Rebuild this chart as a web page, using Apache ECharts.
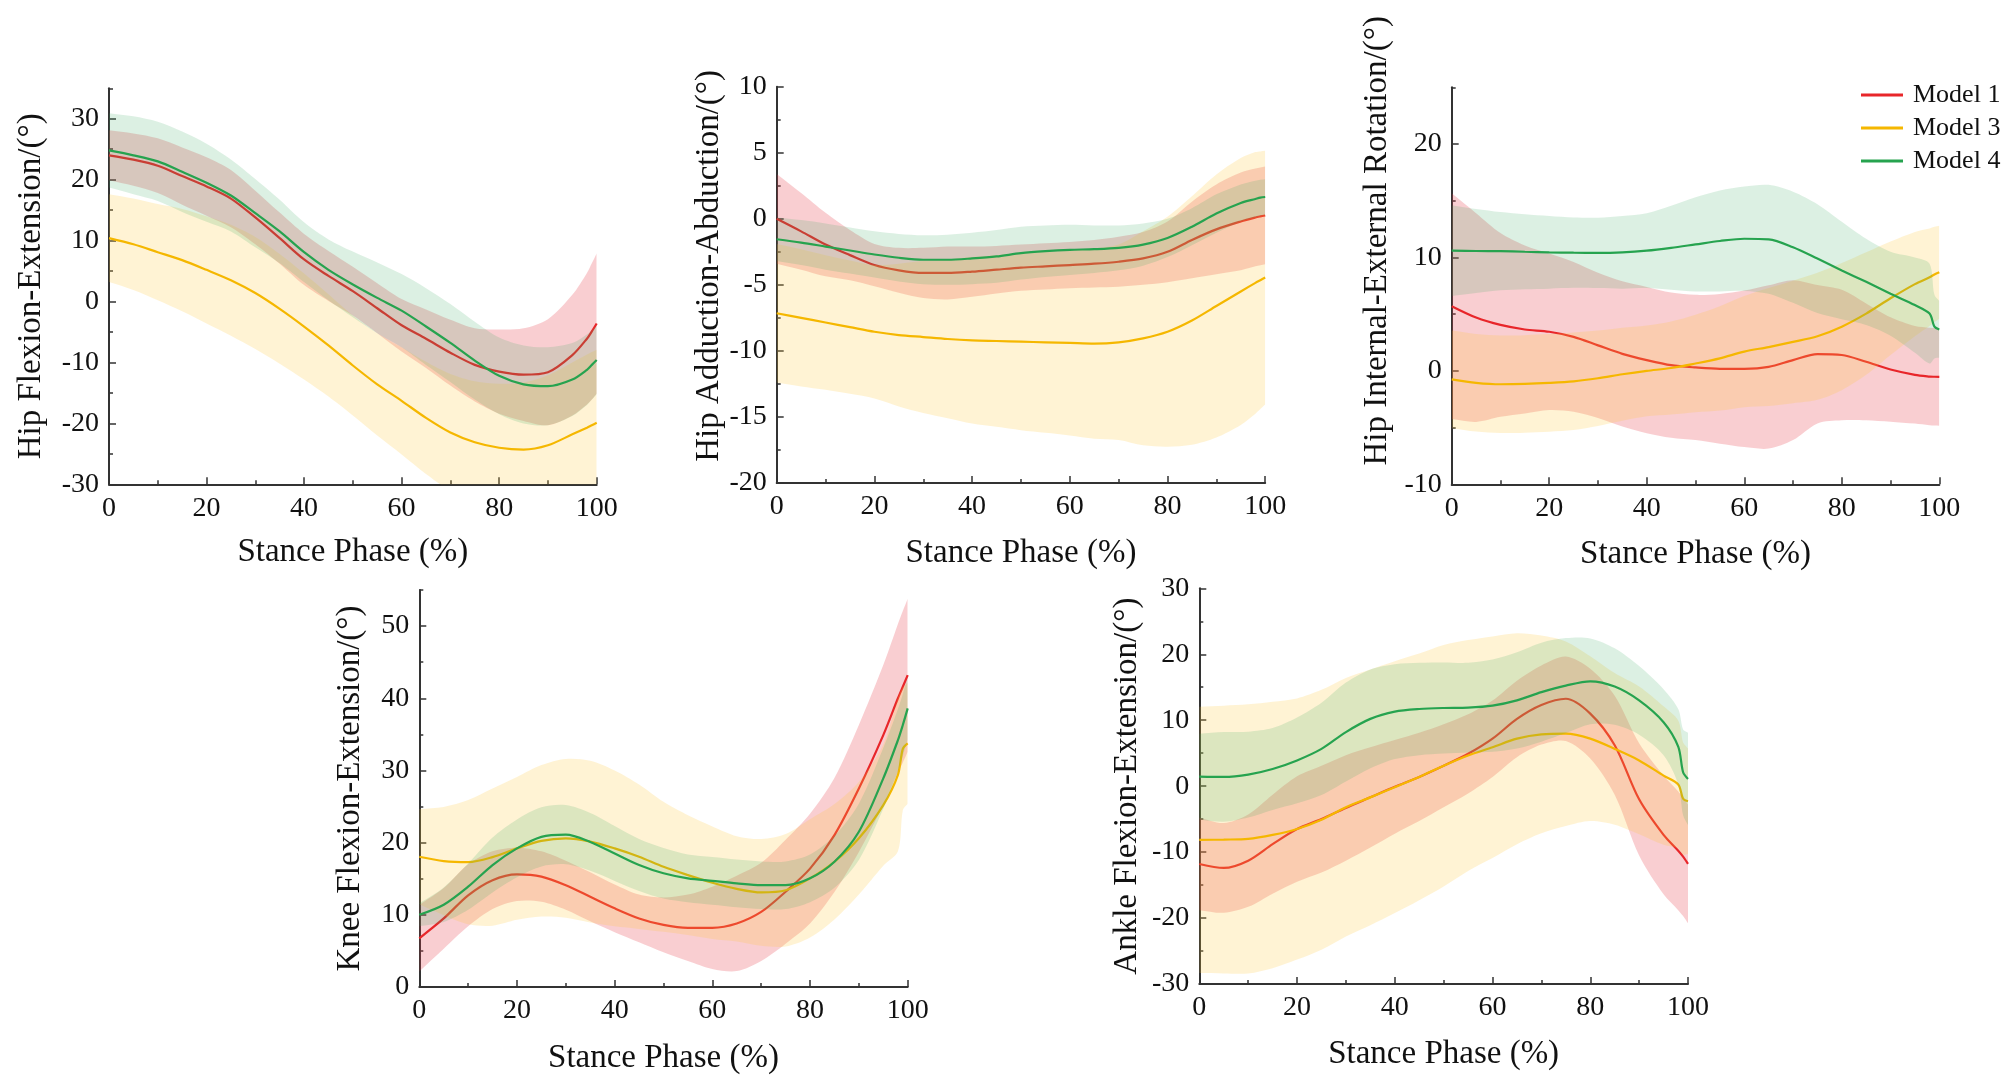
<!DOCTYPE html>
<html>
<head>
<meta charset="utf-8">
<title>Joint angles in stance phase</title>
<script src="https://cdn.jsdelivr.net/npm/echarts@6/dist/echarts.min.js"></script>
<style>
html,body{margin:0;padding:0;background:#fff;}
#main{width:2008px;height:1085px;}
</style>
</head>
<body>
<div id="main"></div>
<script>
// stance phase samples (%)
var X = [0,5,10,15,20,25,30,35,40,45,50,55,60,65,70,75,80,85,90,95,98,99,100];
var MODELS = ['Model 1','Model 3','Model 4'];

// Hip flexion-extension : mean / sd
var hipFE_m1 = [24.0,23.3,22.3,20.6,18.9,16.9,13.8,10.4,6.9,4.2,1.7,-1.1,-3.9,-6.1,-8.4,-10.4,-11.5,-12.0,-11.6,-8.8,-6.1,-4.9,-3.6];
var hipFE_m1_sd = [4.1,4.3,4.5,4.7,4.8,4.7,4.4,4.2,4.2,4.1,4.0,4.1,4.3,4.8,5.4,6.0,6.9,7.6,8.7,9.9,10.8,11.2,11.5];
var hipFE_m3 = [10.4,9.4,8.1,6.8,5.2,3.5,1.4,-1.2,-4.1,-7.2,-10.5,-13.6,-16.3,-19.1,-21.5,-23.1,-24.0,-24.3,-23.6,-21.8,-20.7,-20.3,-19.9];
var hipFE_m3_sd = [7.2,7.5,7.9,8.4,8.8,9.1,9.2,9.0,8.7,8.4,8.2,8.4,8.8,9.2,9.6,10.0,10.5,11.0,11.5,11.8,12.0,12.0,12.0];
var hipFE_m4 = [24.8,24.0,23.0,21.3,19.5,17.4,14.5,11.5,8.1,5.2,2.8,0.6,-1.5,-4.1,-6.8,-9.7,-12.2,-13.6,-13.9,-12.8,-11.2,-10.4,-9.6];
var hipFE_m4_sd = [6.1,6.4,6.5,6.6,6.4,5.9,5.6,5.2,4.9,5.0,5.4,5.8,6.0,6.3,6.4,6.4,6.3,6.4,6.4,6.0,5.8,5.7,5.6];

// Hip adduction-abduction
var hipAA_m1 = [0,-0.95,-1.95,-2.75,-3.5,-3.9,-4.1,-4.1,-4.0,-3.85,-3.7,-3.6,-3.5,-3.4,-3.25,-3.0,-2.5,-1.6,-0.8,-0.2,0.1,0.18,0.25];
var hipAA_m1_sd = [3.4,2.9,2.4,1.9,1.6,1.7,1.9,2.0,1.9,1.8,1.75,1.75,1.75,1.8,1.9,2.0,2.3,2.9,3.4,3.7,3.7,3.7,3.7];
var hipAA_m3 = [-7.15,-7.5,-7.85,-8.2,-8.55,-8.8,-8.95,-9.1,-9.2,-9.25,-9.3,-9.35,-9.4,-9.45,-9.35,-9.05,-8.55,-7.7,-6.6,-5.5,-4.85,-4.65,-4.45];
var hipAA_m3_sd = [5.25,5.2,5.1,5.05,5.05,5.4,5.75,6.0,6.3,6.5,6.7,6.85,7.0,7.2,7.4,8.1,8.7,9.4,9.95,10.1,9.9,9.75,9.6];
var hipAA_m4 = [-1.55,-1.8,-2.1,-2.4,-2.7,-2.95,-3.1,-3.1,-3.0,-2.85,-2.6,-2.45,-2.35,-2.3,-2.2,-1.95,-1.45,-0.6,0.4,1.2,1.5,1.6,1.65];
var hipAA_m4_sd = [1.65,1.7,1.75,1.75,1.75,1.8,1.85,1.9,1.95,2.0,2.0,1.95,1.9,1.8,1.7,1.6,1.45,1.4,1.45,1.4,1.38,1.36,1.35];

// Hip internal-external rotation
var hipIE_m1 = [5.7,4.7,4.05,3.65,3.45,3.0,2.25,1.5,0.95,0.5,0.3,0.18,0.18,0.35,0.95,1.47,1.4,0.8,0.12,-0.35,-0.5,-0.52,-0.53];
var hipIE_m1_sd = [9.95,9.2,8.1,7.4,6.9,6.6,6.4,6.4,6.45,6.4,6.4,6.6,6.9,7.2,7.05,6.1,5.75,5.15,4.6,4.3,4.3,4.3,4.3];
var hipIE_m3 = [-0.75,-1.05,-1.18,-1.15,-1.06,-0.92,-0.65,-0.3,0,0.25,0.65,1.1,1.7,2.1,2.55,3.05,3.9,5.05,6.4,7.65,8.25,8.5,8.7];
var hipIE_m3_sd = [4.3,4.3,4.3,4.3,4.3,4.3,4.2,4.1,4.0,4.1,4.3,4.6,4.9,5.2,5.4,5.6,5.6,5.4,5.0,4.6,4.3,4.2,4.1];
var hipIE_m4 = [10.6,10.57,10.55,10.5,10.45,10.42,10.4,10.45,10.6,10.85,11.15,11.45,11.65,11.6,10.9,9.9,8.85,7.85,6.8,5.8,5.05,3.9,3.65];
var hipIE_m4_sd = [4.0,3.7,3.45,3.3,3.2,3.1,3.1,3.2,3.3,3.7,4.15,4.45,4.6,4.8,4.9,4.8,4.3,3.8,3.7,4.2,4.4,2.8,2.5];

// Knee flexion-extension
var knee_m1 = [6.75,9.5,12.7,14.8,15.6,15.3,14.1,12.5,10.9,9.5,8.6,8.2,8.2,8.8,10.4,13.2,16.4,21.05,27.5,34.9,40.0,41.6,43.2];
var knee_m1_sd = [4.6,4.2,4.3,4.0,3.7,3.5,3.4,3.4,3.3,3.3,3.8,4.6,5.7,6.6,6.8,7.2,7.6,7.9,8.8,9.7,10.3,10.5,10.6];
var knee_m3 = [18.05,17.45,17.3,18.0,19.2,20.25,20.6,20.15,19.2,18.05,16.65,15.5,14.45,13.6,13.1,13.4,15.05,17.35,20.6,25.2,29.4,33.0,33.75];
var knee_m3_sd = [6.6,7.5,8.6,9.5,9.9,10.5,11.0,11.2,10.8,10.0,9.0,8.3,7.8,7.3,7.4,7.8,8.2,8.0,7.8,8.4,10.6,8.5,8.35];
var knee_m4 = [10.0,11.4,13.9,16.9,19.2,20.8,21.1,20.1,18.5,16.9,15.75,15.05,14.7,14.35,14.1,14.1,15.05,17.35,21.5,28.9,34.2,36.3,38.6];
var knee_m4_sd = [1.6,2.4,3.2,3.8,4.0,4.1,4.1,4.0,3.8,3.6,3.5,3.3,3.3,3.3,3.3,3.3,3.3,3.6,3.9,4.2,4.3,4.3,4.3];

// Ankle flexion-extension
var ankle_m1 = [-11.8,-12.4,-11.3,-8.8,-6.5,-5.0,-3.3,-1.7,-0.1,1.4,3.1,4.9,7.2,10.2,12.3,13.25,11.0,6.2,-2.0,-7.4,-9.8,-10.7,-11.8];
var ankle_m1_sd = [7.0,6.8,7.0,7.5,8.0,8.1,8.0,7.6,7.1,6.7,6.3,6.0,5.8,5.8,6.0,6.4,6.8,7.5,8.5,9.0,9.0,9.0,9.0];
var ankle_m3 = [-8.15,-8.1,-8.0,-7.4,-6.5,-5.1,-3.2,-1.7,-0.15,1.4,3.1,4.65,5.9,7.2,7.85,7.95,7.2,5.65,3.9,1.6,0.25,-1.9,-2.3];
var ankle_m3_sd = [20.2,20.3,20.4,20.2,19.8,19.7,19.6,19.4,19.1,18.7,18.3,17.5,16.8,16.0,15.0,14.0,12.5,11.5,11.2,10.5,9.7,8.5,8.0];
var ankle_m4 = [1.45,1.4,1.75,2.6,3.9,5.65,8.2,10.2,11.3,11.7,11.85,11.9,12.2,13.0,14.25,15.25,15.9,15.1,13.0,9.7,6.0,2.1,1.1];
var ankle_m4_sd = [6.5,6.8,6.5,6.2,6.5,7.0,7.5,7.5,7.2,7.0,6.9,6.8,7.0,7.3,7.5,7.2,6.5,5.8,5.2,5.0,5.7,6.5,7.0];

var FONT = '"Liberation Serif", "Times New Roman", serif';
var lineColors = ['#e8262a', '#f5b700', '#26a34f'];
var bandColors = ['rgba(230,60,70,0.25)', 'rgba(255,200,60,0.22)', 'rgba(60,170,100,0.18)'];
var axisCol = '#333';
var SMOOTH = 0.3;

var panels = [
  {title:'Hip Flexion-Extension/(°)', min:-30, max:35, major:10, minor:5,
   box:[109, 88.3, 487.7, 396], yGap:61, xGap:52, shift:0,
   models:[[hipFE_m1,hipFE_m1_sd],[hipFE_m3,hipFE_m3_sd],[hipFE_m4,hipFE_m4_sd]]},
  {title:'Hip Adduction-Abduction/(°)', min:-20, max:10, major:5, minor:2.5,
   box:[776.7, 86.7, 488.5, 396.3], yGap:49, xGap:54, shift:19,
   models:[[hipAA_m1,hipAA_m1_sd],[hipAA_m3,hipAA_m3_sd],[hipAA_m4,hipAA_m4_sd]]},
  {title:'Hip Internal-External Rotation/(°)', min:-10, max:25, major:10, minor:5,
   box:[1451.7, 87.3, 487.6, 397], yGap:58, xGap:54, shift:45,
   models:[[hipIE_m1,hipIE_m1_sd],[hipIE_m3,hipIE_m3_sd],[hipIE_m4,hipIE_m4_sd]]},
  {title:'Knee Flexion-Extension/(°)', min:0, max:55, major:10, minor:5,
   box:[419.3, 590, 488.4, 397], yGap:52, xGap:55, shift:0,
   models:[[knee_m1,knee_m1_sd],[knee_m3,knee_m3_sd],[knee_m4,knee_m4_sd]]},
  {title:'Ankle Flexion-Extension/(°)', min:-30, max:30, major:10, minor:5,
   box:[1199.3, 588.3, 488.7, 395.7], yGap:55, xGap:54, shift:0,
   models:[[ankle_m1,ankle_m1_sd],[ankle_m3,ankle_m3_sd],[ankle_m4,ankle_m4_sd]]}
];

// bezier segments through pixel points, same rule as the line series smoothing
function curve(pts) {
  var n = pts.length, cps = [];
  for (var i = 0; i < n; i++) {
    var p = pts[i], prev = pts[Math.max(i - 1, 0)], next = pts[Math.min(i + 1, n - 1)];
    var vx = next[0] - prev[0], vy = next[1] - prev[1];
    var d0 = Math.hypot(p[0] - prev[0], p[1] - prev[1]);
    var d1 = Math.hypot(next[0] - p[0], next[1] - p[1]);
    var r = (d0 + d1) ? d1 / (d0 + d1) : 0;
    cps.push([
      [p[0] - vx * SMOOTH * (1 - r), p[1] - vy * SMOOTH * (1 - r)],
      [p[0] + vx * SMOOTH * r, p[1] + vy * SMOOTH * r]
    ]);
  }
  var d = '';
  for (var j = 1; j < n; j++) {
    d += ' C' + cps[j - 1][1].join(',') + ' ' + cps[j][0].join(',') + ' ' + pts[j].join(',');
  }
  return d;
}

function bandRenderer(mean, sd, color) {
  return function (params, api) {
    if (params.dataIndex !== 0) return null;
    var up = X.map(function (x, i) { return api.coord([x, mean[i] + sd[i]]); });
    var lo = X.map(function (x, i) { return api.coord([x, mean[i] - sd[i]]); }).reverse();
    var path = 'M' + up[0].join(',') + curve(up) + ' L' + lo[0].join(',') + curve(lo) + ' Z';
    var cs = params.coordSys;
    return {
      type: 'path',
      shape: {pathData: path},
      style: {fill: color},
      clipPath: {type: 'rect', shape: {x: cs.x, y: cs.y, width: cs.width, height: cs.height}}
    };
  };
}

var chart = echarts.init(document.getElementById('main'));
var grid = [], xAxis = [], yAxis = [], series = [];
var tickLine = {color: axisCol, width: 1.5};

panels.forEach(function (p, g) {
  grid.push({left: p.box[0], top: p.box[1], width: p.box[2], height: p.box[3]});

  xAxis.push({
    type: 'value', gridIndex: g, min: 0, max: 100, interval: 20,
    name: 'Stance Phase (%)', nameLocation: 'middle', nameGap: p.xGap,
    nameTextStyle: {fontFamily: FONT, fontSize: 33, color: '#111'},
    axisLine: {onZero: false, lineStyle: {color: axisCol, width: 2}},
    axisTick: {inside: true, length: 7, lineStyle: tickLine},
    minorTick: {show: true, splitNumber: 2, length: 4, lineStyle: tickLine},
    axisLabel: {fontFamily: FONT, fontSize: 28, color: '#111', margin: 10},
    splitLine: {show: false}
  });

  var majors = [];
  for (var v = p.min; v <= p.max + 1e-9; v += p.major) majors.push(v);

  yAxis.push({
    type: 'value', gridIndex: g, position: 'left', min: p.min, max: p.max, interval: p.major,
    name: p.title, nameLocation: 'middle', nameGap: p.yGap,
    nameTextStyle: {fontFamily: FONT, fontSize: 33, color: '#111', padding: [0, 0, 0, p.shift * 2]},
    axisLine: {show: true, onZero: false, lineStyle: {color: axisCol, width: 2}},
    axisTick: {inside: true, length: 7, customValues: majors, lineStyle: tickLine},
    axisLabel: {fontFamily: FONT, fontSize: 28, color: '#111', margin: 10, customValues: majors},
    splitLine: {show: false}
  });
  // minor ticks only
  yAxis.push({
    type: 'value', gridIndex: g, position: 'left', min: p.min, max: p.max, interval: p.minor,
    axisLine: {show: false}, axisLabel: {show: false}, splitLine: {show: false},
    axisTick: {show: true, inside: true, length: 4, lineStyle: tickLine}
  });

  // each model: its band, then its mean line; later bands cover earlier lines
  p.models.forEach(function (m, k) {
    var mean = m[0], sd = m[1];
    series.push({
      type: 'custom', name: 'band' + g + '_' + k, xAxisIndex: g, yAxisIndex: 2 * g, silent: true,
      z: 1 + 2 * k,
      data: X.map(function (x, i) { return [x, mean[i] - sd[i], mean[i] + sd[i]]; }),
      encode: {x: 0, y: [1, 2]},
      renderItem: bandRenderer(mean, sd, bandColors[k])
    });
    series.push({
      type: 'line', name: MODELS[k], xAxisIndex: g, yAxisIndex: 2 * g,
      z: 2 + 2 * k,
      data: X.map(function (x, i) { return [x, mean[i]]; }),
      color: lineColors[k], symbol: 'none', smooth: SMOOTH,
      lineStyle: {color: lineColors[k], width: 2.2}
    });
  });
});

chart.setOption({
  animation: false,
  backgroundColor: '#fff',
  legend: {
    data: MODELS, orient: 'vertical', left: 1856, top: 77,
    icon: 'rect', itemWidth: 42, itemHeight: 3, itemGap: 7,
    textStyle: {fontFamily: FONT, fontSize: 26, color: '#111', padding: [0, 0, 0, 5]}
  },
  grid: grid,
  xAxis: xAxis,
  yAxis: yAxis,
  series: series
});
</script>
</body>
</html>
